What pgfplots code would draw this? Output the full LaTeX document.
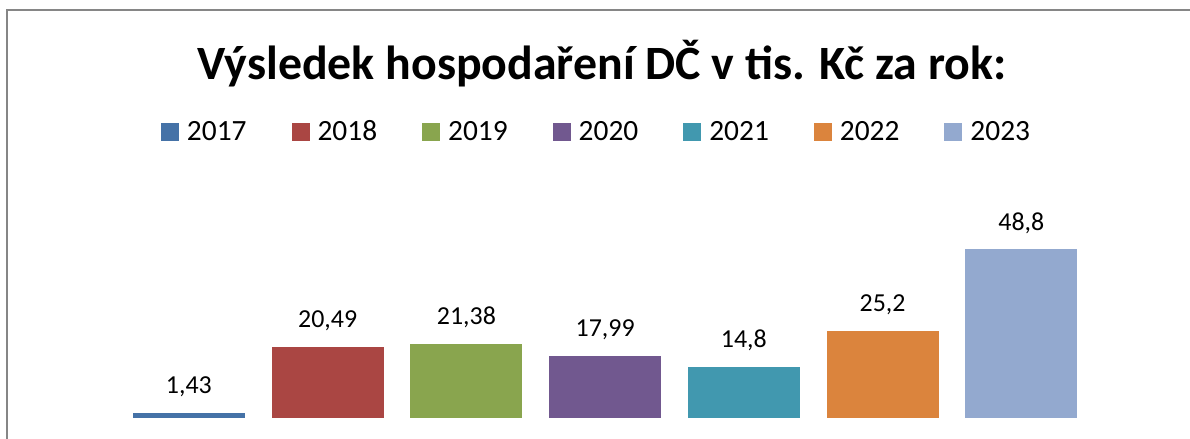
\documentclass[border=0pt]{standalone}
\usepackage{pgfplots}
\pgfplotsset{compat=1.18}
\usepackage{fontspec}
\setmainfont{Carlito}
\definecolor{c2017}{HTML}{4572A7}
\definecolor{c2018}{HTML}{AA4643}
\definecolor{c2019}{HTML}{89A54E}
\definecolor{c2020}{HTML}{71588F}
\definecolor{c2021}{HTML}{4198AF}
\definecolor{c2022}{HTML}{DB843D}
\definecolor{c2023}{HTML}{93A9CF}
\definecolor{frame}{RGB}{134,134,134}
\begin{document}
\begin{tikzpicture}
\path[use as bounding box] (-119.5bp,-21.3bp) rectangle (1070.5bp,417.7bp);
\begin{axis}[
  name=ax, at={(0,0)}, anchor=south west,
  scale only axis, width=971.25bp, height=207.4bp,
  xmin=-0.5, xmax=6.5, ymin=0, ymax=60,
  axis line style={draw=none}, xtick=\empty, ytick=\empty,
  clip=false,
  ybar, bar width=112bp,
  every axis plot/.append style={draw=none, bar shift=0pt},
  nodes near coords,
  every node near coord/.append style={font=\fontsize{26}{30}\selectfont, anchor=base, yshift=19bp, text=black},
  /pgf/number format/.cd, use comma, fixed, precision=2, assume math mode=true, /pgfplots/.cd,
  title={Výsledek hospodaření DČ v tis. Kč za rok:},
  title style={font=\fontsize{48}{56}\selectfont\bfseries, at={(0.4967,1.600)}, anchor=base, inner sep=0pt},
  legend columns=7,
  legend style={draw=none, fill=none, inner sep=0pt, outer sep=0pt,
    at={(0.04273,1.329)}, anchor=south west,
    font=\fontsize{29.5}{34}\selectfont, nodes={inner sep=0pt},
    cells={anchor=base west},
    /tikz/every even column/.append style={column sep=45bp},
    /tikz/every odd column/.append style={column sep=8bp}},
  legend image code/.code={\fill[#1] (0bp,0bp) rectangle (18bp,18bp);},
]
\addplot[fill=c2017, draw=none, bar shift=0pt] coordinates {(0,1.43)};
\addlegendentry{2017}
\addplot[fill=c2018, draw=none, bar shift=0pt] coordinates {(1,20.49)};
\addlegendentry{2018}
\addplot[fill=c2019, draw=none, bar shift=0pt] coordinates {(2,21.38)};
\addlegendentry{2019}
\addplot[fill=c2020, draw=none, bar shift=0pt] coordinates {(3,17.99)};
\addlegendentry{2020}
\addplot[fill=c2021, draw=none, bar shift=0pt] coordinates {(4,14.8)};
\addlegendentry{2021}
\addplot[fill=c2022, draw=none, bar shift=0pt] coordinates {(5,25.2)};
\addlegendentry{2022}
\addplot[fill=c2023, draw=none, bar shift=0pt] coordinates {(6,48.8)};
\addlegendentry{2023}
\end{axis}
\draw[frame, line width=2bp] (-112.5bp,-21.3bp) -- (-112.5bp,407.7bp) -- (1070.5bp,407.7bp);
\end{tikzpicture}
\end{document}
